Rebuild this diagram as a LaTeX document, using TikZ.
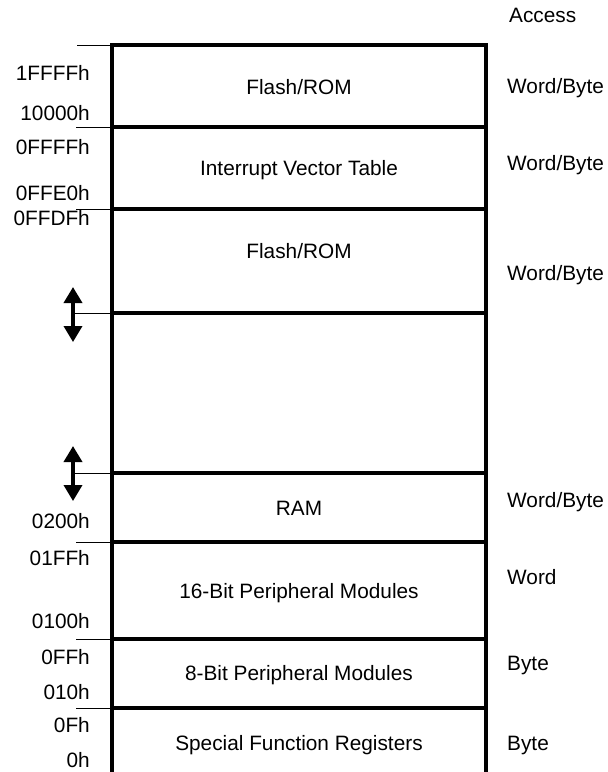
\documentclass[tikz,border=0pt]{standalone}
\usepackage{fontspec}
\setmainfont{Liberation Sans}
\usetikzlibrary{arrows.meta}
\begin{document}
\begin{tikzpicture}[x=1pt,y=-1pt,
  lbl/.style={font=\fontsize{20.8}{24}\selectfont, inner sep=0pt, anchor=base},
  addr/.style={lbl, anchor=base east},
  acc/.style={lbl, anchor=base west},
  region/.style={lbl},
  frame/.style={line width=3.8pt},
  divider/.style={line width=3.1pt},
  tick/.style={line width=1pt},
  gap/.style={line width=3.5pt, {Triangle[width=18pt,length=16pt]}-{Triangle[width=18pt,length=16pt]}}]
\useasboundingbox (0,0) rectangle (608,772);
% frame
\coordinate (TL) at (112,45);
\coordinate (TR) at (486,45);
\coordinate (BL) at (112,772);
\coordinate (BR) at (486,772);
\draw[frame] (BL) -- (TL) -- (TR) -- (BR);
% dividers
\foreach \n/\y in {d1/127,d2/209,d3/313,d4/473,d5/542,d6/639,d7/708}{
  \coordinate (\n L) at (112,\y);
  \coordinate (\n R) at (486,\y);
  \draw[divider] (\n L) -- (\n R);
}
% ticks
\coordinate (t0) at (77,45);
\coordinate (t1) at (76,127);
\coordinate (t2) at (76,209);
\coordinate (t3) at (74,313);
\coordinate (t4) at (74,473);
\coordinate (t5) at (76,542);
\coordinate (t6) at (76,639);
\coordinate (t7) at (76,708);
\draw[tick] (t0) -- (TL);
\draw[tick] (t1) -- (d1L);
\draw[tick] (t2) -- (d2L);
\draw[tick] (t3) -- (d3L);
\draw[tick] (t4) -- (d4L);
\draw[tick] (t5) -- (d5L);
\draw[tick] (t6) -- (d6L);
\draw[tick] (t7) -- (d7L);
% gap arrows
\coordinate (a1t) at (73,287);
\coordinate (a1b) at (73,342);
\coordinate (a2t) at (73,446);
\coordinate (a2b) at (73,501);
\draw[gap] (a1t) -- (a1b);
\draw[gap] (a2t) -- (a2b);
% region names
\node[region] (r1) at (299,94) {Flash/ROM};
\node[region] (r2) at (299,175) {Interrupt Vector Table};
\node[region] (r3) at (299,258) {Flash/ROM};
\node[region] (r5) at (299,515) {RAM};
\node[region] (r6) at (299,598) {16-Bit Peripheral Modules};
\node[region] (r7) at (299,680) {8-Bit Peripheral Modules};
\node[region] (r8) at (299,750) {Special Function Registers};
% addresses
\node[addr] (A1) at (90,80) {1FFFFh};
\node[addr] (A2) at (90,120) {10000h};
\node[addr] (A3) at (90,154) {0FFFFh};
\node[addr] (A4) at (90,200) {0FFE0h};
\node[addr] (A5) at (90,225) {0FFDFh};
\node[addr] (A6) at (90,528) {0200h};
\node[addr] (A7) at (90,565) {01FFh};
\node[addr] (A8) at (90,628) {0100h};
\node[addr] (A9) at (90,664) {0FFh};
\node[addr] (A10) at (90,699) {010h};
\node[addr] (A11) at (90,732) {0Fh};
\node[addr] (A12) at (90,767) {0h};
% access
\node[acc] (hdr) at (509,22) {Access};
\node[acc] (w1) at (507,93) {Word/Byte};
\node[acc] (w2) at (507,170) {Word/Byte};
\node[acc] (w3) at (507,280) {Word/Byte};
\node[acc] (w4) at (507,507) {Word/Byte};
\node[acc] (w5) at (507,584) {Word};
\node[acc] (w6) at (507,670) {Byte};
\node[acc] (w7) at (507,750) {Byte};
\end{tikzpicture}
\end{document}
